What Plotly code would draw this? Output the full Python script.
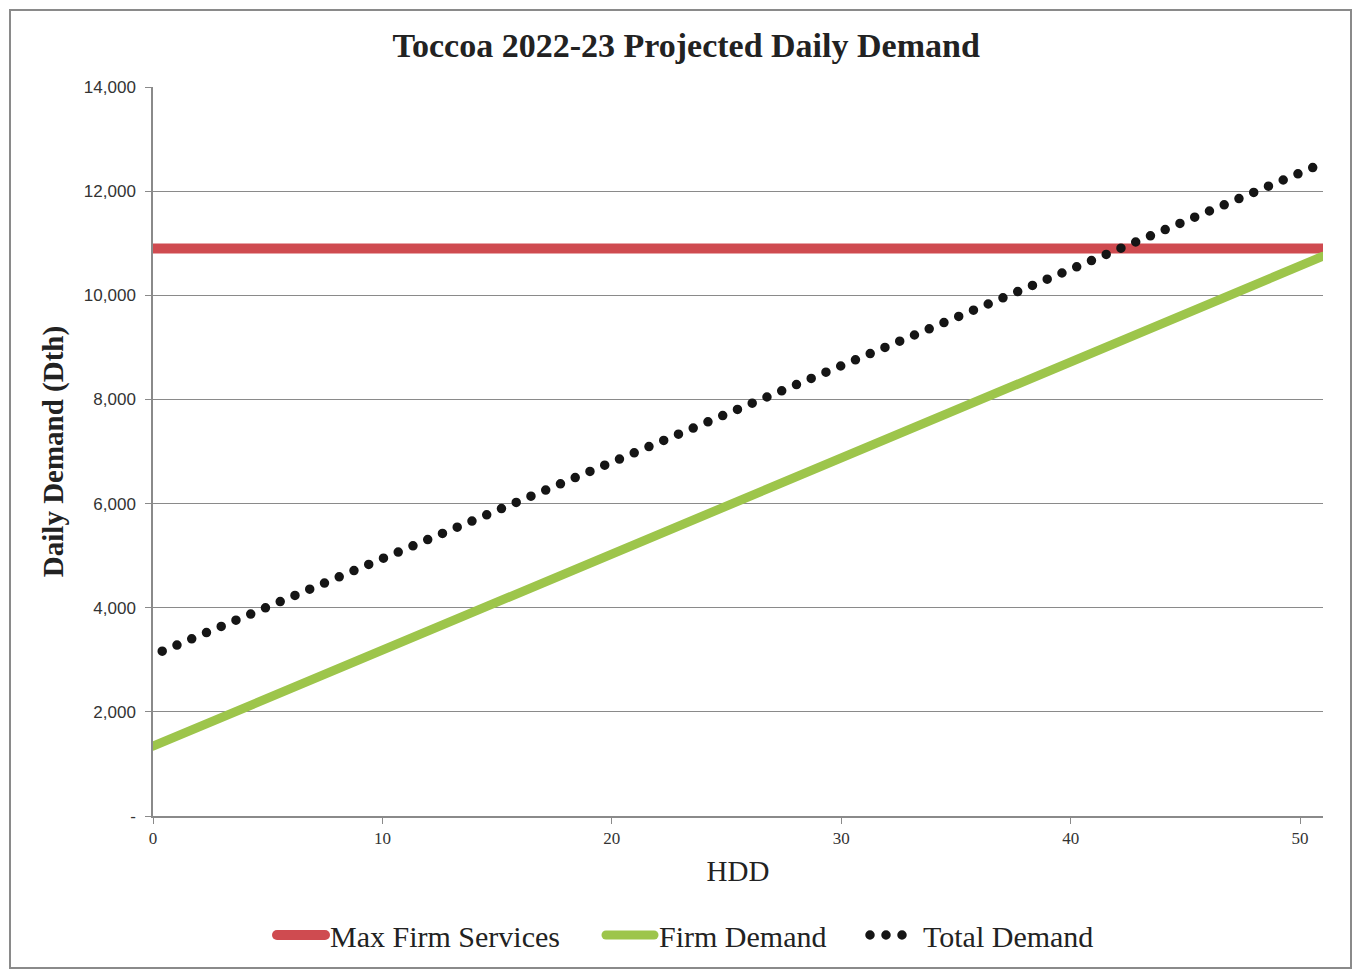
import plotly.graph_objects as go

# Data
hdd = [0, 10, 20, 30, 40, 51]
max_firm_services = [10900, 10900, 10900, 10900, 10900, 10900]
firm_demand = [1340, 3185, 5030, 6875, 8720, 10750]
total_demand = [3090, 4940, 6795, 8645, 10500, 12535]

y_tick_vals = [0, 2000, 4000, 6000, 8000, 10000, 12000, 14000]
y_tick_text = ["-", "2,000", "4,000", "6,000", "8,000", "10,000", "12,000", "14,000"]
x_tick_vals = [0, 10, 20, 30, 40, 50]

W, H = 1356, 973
L, R, T, B = 153, 33, 87, 157
pw, ph = W - L - R, H - T - B

def px_to_paper_x(px):
    return (px - L) / pw

def px_to_paper_y(py):
    return (H - B - py) / ph

fig = go.Figure()
fig.add_trace(go.Scatter(x=hdd, y=max_firm_services, mode="lines", name="Max Firm Services",
                         line=dict(color="#CF4B50", width=10), legend="legend"))
fig.add_trace(go.Scatter(x=hdd, y=firm_demand, mode="lines", name="Firm Demand",
                         line=dict(color="#9DC54B", width=9), legend="legend2"))
fig.add_trace(go.Scatter(x=hdd, y=total_demand, mode="lines", name="Total Demand",
                         line=dict(color="#151515", width=9.5, dash="0px,16px"), legend="legend3"))

serif = "Liberation Serif, Times New Roman, serif"
sans = "Liberation Sans, Arial, sans-serif"

def leg(xpx):
    return dict(orientation="h", x=xpx / W, xref="container", xanchor="left",
                y=1 - 935 / H, yref="container", yanchor="middle",
                font=dict(family=serif, size=30, color="#222"), itemwidth=48,
                bgcolor="rgba(0,0,0,0)")

fig.update_layout(
    width=W, height=H,
    margin=dict(l=L, r=R, t=T, b=B),
    paper_bgcolor="white", plot_bgcolor="white",
    title=dict(text="<b>Toccoa 2022-23 Projected Daily Demand</b>", x=0.506, xanchor="center",
               y=1 - 45 / H, yanchor="middle", font=dict(family=serif, size=34, color="#222")),
    showlegend=True,
    legend=leg(272),
    legend2=leg(601),
    legend3=leg(865),
    xaxis=dict(range=[0, 51], tickvals=x_tick_vals, showgrid=False, zeroline=False,
               showline=True, linecolor="#8a8a8a", linewidth=1.5,
               ticks="outside", ticklen=6, tickcolor="#8a8a8a",
               tickfont=dict(family=serif, size=17, color="#333"),
               title=dict(text="HDD", font=dict(family=serif, size=29, color="#222"), standoff=14)),
    yaxis=dict(range=[0, 14000], tickvals=y_tick_vals, ticktext=y_tick_text,
               showgrid=True, gridcolor="#8a8a8a", gridwidth=1, zeroline=False,
               showline=True, linecolor="#8a8a8a", linewidth=1.5,
               ticks="outside", ticklen=6, tickcolor="#8a8a8a", ticklabelstandoff=6,
               tickfont=dict(family=sans, size=17, color="#333"),
               title=dict(text="<b>Daily Demand (Dth)</b>", font=dict(family=serif, size=29, color="#222"),
                          standoff=12)),
    shapes=[dict(type="rect", xref="paper", yref="paper",
                 x0=px_to_paper_x(10), x1=px_to_paper_x(1351),
                 y0=px_to_paper_y(968), y1=px_to_paper_y(10),
                 line=dict(color="#8a8a8a", width=2), fillcolor="rgba(0,0,0,0)", layer="below")],
)

post = """
var gd = document.getElementsByClassName('plotly-graph-div')[0];
function roundCaps(){
  var ps = gd.querySelectorAll('path.js-line');
  ps.forEach(function(p){ p.style.strokeLinecap = 'round'; });
  var tr = gd.querySelectorAll('.scatterlayer .trace');
  if (tr.length >= 3) {
    var p = tr[2].querySelector('path.js-line');
    if (p) { p.style.strokeDashoffset = '6px'; }
  }
}
roundCaps();
gd.on('plotly_afterplot', roundCaps);
"""
fig.write_html("out.html", post_script=post)
